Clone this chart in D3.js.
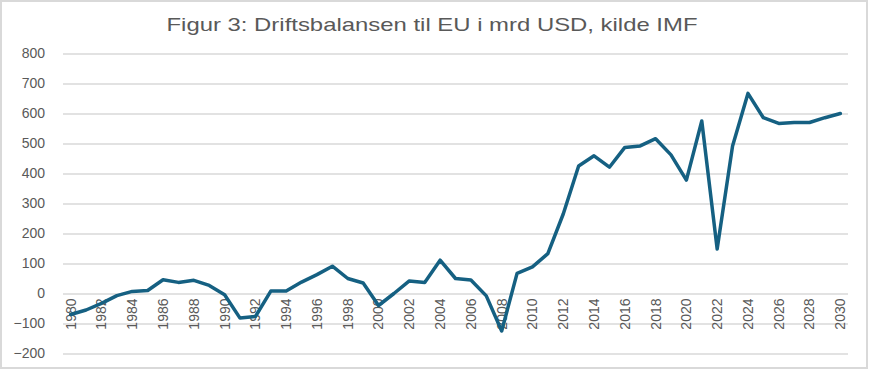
<!DOCTYPE html>
<html>
<head>
<meta charset="utf-8">
<script src="https://cdn.jsdelivr.net/npm/d3@7"></script>
<style>
  body { margin: 0; background: #fff; }
  text { font-family: "Liberation Sans", Arial, sans-serif; }
</style>
</head>
<body>
<div class="chart"></div>
<script>
const years = d3.range(1980, 2031)
const balance = [
  -70, -55, -33, -7, 7, 10, 46, 37, 44, 27,
  -4, -82, -77, 8, 8, 38, 63, 91, 50, 35,
  -40, 0, 42, 37, 111, 50, 45, -8, -125, 67,
  89, 133, 265, 425, 459, 421, 487, 492, 516, 462,
  378, 575, 148, 492, 667, 586, 567, 570, 570, 586,
  600
]
const yTicks = [-200, -100, 0, 100, 200, 300, 400, 500, 600, 700, 800]
const title = 'Figur 3: Driftsbalansen til EU i mrd USD, kilde IMF'

const data = years.map((yr, i) => ({year: yr, val: balance[i]}))

const svg = d3.select('.chart').append('svg')
  .attr('width', 872)
  .attr('height', 370)

// frame round the chart
svg.append('rect')
  .attr('x', 1).attr('y', 1)
  .attr('width', 866).attr('height', 367)
  .attr('fill', '#fff')
  .attr('stroke', '#d9d9d9')
  .attr('stroke-width', 2)

const x = d3.scaleBand()
  .domain(years)
  .range([63, 848])

const y = d3.scaleLinear()
  .domain([-200, 800])
  .range([353.5, 53.5])

// title is drawn wide in the original, so stretch it to the same span
svg.append('text')
  .attr('x', 432)
  .attr('y', 31)
  .attr('text-anchor', 'middle')
  .attr('font-size', 19)
  .attr('textLength', 531)
  .attr('lengthAdjust', 'spacingAndGlyphs')
  .attr('fill', '#595959')
  .text(title)

// gridlines + y labels
const yAxis = d3.axisLeft(y)
  .tickValues(yTicks)
  .tickSize(-(848 - 63))
  .tickPadding(18)

const gy = svg.append('g')
  .attr('transform', 'translate(63,0)')
  .call(yAxis)
gy.select('.domain').remove()
gy.selectAll('line').attr('stroke', '#d9d9d9').attr('stroke-width', 1.5)
gy.selectAll('text')
  .attr('fill', '#595959')
  .attr('font-size', 14)
  .attr('font-family', '"Liberation Sans", Arial, sans-serif')

// x labels, every second year, rotated, hung below the zero line
const xAxis = d3.axisBottom(x)
  .tickValues(years.filter(d => d % 2 === 0))
  .tickSize(0)

const gx = svg.append('g')
  .attr('transform', `translate(0,${y(0)})`)
  .call(xAxis)
gx.select('.domain').remove()
gx.selectAll('text')
  .attr('transform', 'rotate(-90)')
  .attr('text-anchor', 'end')
  .attr('x', -5)
  .attr('y', 0)
  .attr('dy', '0.35em')
  .attr('fill', '#595959')
  .attr('font-size', 14)
  .attr('font-family', '"Liberation Sans Narrow", "Arial Narrow", sans-serif')

const line = d3.line()
  .x(d => x(d.year) + x.bandwidth() / 2)
  .y(d => y(d.val))

svg.append('path')
  .datum(data)
  .attr('fill', 'none')
  .attr('stroke', '#156082')
  .attr('stroke-width', 3.5)
  .attr('stroke-linejoin', 'round')
  .attr('stroke-linecap', 'round')
  .attr('d', line)
</script>
</body>
</html>
